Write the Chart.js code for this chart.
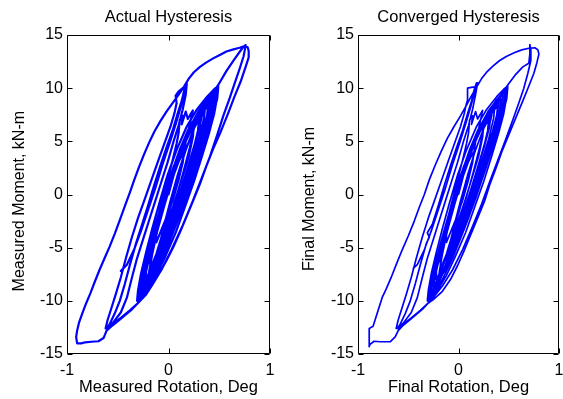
<!DOCTYPE html>
<html><head><meta charset="utf-8">
<script src="https://cdn.jsdelivr.net/npm/chart.js@4/dist/chart.umd.min.js"></script>
<style>
html,body{margin:0;padding:0;background:#fff;overflow:hidden;width:563px;height:399px;position:relative;}
#c1{position:absolute;left:0;top:0;width:290px;height:399px;}
#c2{position:absolute;left:290px;top:0;width:290px;height:399px;}
</style></head><body>
<canvas id="c1" width="290" height="399"></canvas>
<canvas id="c2" width="290" height="399"></canvas>
<script>
// Tick labels
const rotTicks = [-1, 0, 1];
const momTicks = [-15, -10, -5, 0, 5, 10, 15];
const titles = ["Actual Hysteresis", "Converged Hysteresis"];
const xTitles = ["Measured Rotation, Deg", "Final Rotation, Deg"];
const yTitles = ["Measured Moment, kN-m   ", "Final Moment, kN-m  "];

// [rotation (deg), moment (kN-m)], in path order
const bandCycles = [
[0,0],[0.05,1.8],[0.1,3.1],[0.15,4.0],
[0.14,3.0],[0.1,1.4],[0.04,-0.6],[-0.03,-2.4],[-0.09,-3.8],[-0.12,-4.5],
[-0.12,-3.6],[-0.1,-2.2],[-0.05,-0.2],[0.02,1.8],[0.1,3.8],[0.18,5.4],[0.25,6.5],
[0.24,5.4],[0.2,3.6],[0.13,1.4],[0.05,-1.0],[-0.03,-3.2],[-0.11,-5.4],[-0.18,-7.0],
[-0.18,-6.0],[-0.15,-4.4],[-0.1,-2.4],[-0.03,0],[0.05,2.2],[0.13,4.2],[0.22,6.0],[0.32,7.5],
[0.31,6.4],[0.26,4.6],[0.19,2.4],[0.1,-0.2],[0.01,-2.8],[-0.08,-5.0],[-0.16,-6.8],[-0.22,-8.0],
[-0.22,-7.0],[-0.19,-5.6],[-0.14,-3.6],[-0.07,-1.2],[0.01,1.2],[0.1,3.6],[0.2,5.8],[0.3,7.5],[0.4,8.8],
[0.39,7.8],[0.34,6.0],[0.27,3.8],[0.18,1.2],[0.08,-1.6],[-0.03,-4.4],[-0.13,-6.6],[-0.21,-8.2],[-0.27,-9.3],
[-0.27,-8.4],[-0.24,-7.0],[-0.19,-5.0],[-0.12,-2.6],[-0.04,0],[0.05,2.6],[0.15,5.0],[0.26,7.2],[0.37,8.8],[0.49,10.1],
[0.48,9.0],[0.43,7.2],[0.36,5.0],[0.27,2.4],[0.17,-0.4],[0.06,-3.2],[-0.05,-5.8],[-0.15,-7.8],[-0.23,-9.2],[-0.3,-10.2],
[-0.29,-9.2],[-0.26,-7.6],[-0.2,-5.4],[-0.13,-3.0],[-0.05,-0.4],[0.04,2.2],[0.14,4.8],[0.25,7.0],[0.35,8.4],[0.44,9.4],
[0.43,8.4],[0.38,6.6],[0.3,4.2],[0.21,1.6],[0.11,-1.2],[0.0,-4.0],[-0.1,-6.2],[-0.18,-7.8],[-0.25,-9.0],
[-0.24,-8.0],[-0.2,-6.2],[-0.14,-4.0],[-0.07,-1.6],[0.01,1.0],[0.1,3.6],[0.2,6.0],[0.28,7.4],[0.36,8.2],
[0.35,7.2],[0.3,5.2],[0.22,2.8],[0.12,0],[0.02,-2.8],[-0.08,-5.4],[-0.17,-7.6],[-0.24,-9.0],[-0.28,-9.8],
[-0.27,-8.8],[-0.23,-7.0],[-0.17,-4.8],[-0.1,-2.4],[-0.02,0.2],[0.07,2.8],[0.17,5.2],[0.28,7.4],[0.38,8.8],[0.47,9.8],
[0.46,8.8],[0.41,7.0],[0.33,4.6],[0.24,2.0],[0.14,-0.8],[0.04,-3.4],[-0.06,-5.6],[-0.14,-7.2],[-0.2,-8.2],
[-0.19,-7.2],[-0.16,-5.6],[-0.11,-3.4],[-0.04,-1.0],[0.04,1.6],[0.13,4.2],[0.22,6.2],[0.3,7.0],
[0.29,6.0],[0.24,4.0],[0.16,1.4],[0.07,-1.4],[-0.03,-4.2],[-0.13,-6.6],[-0.22,-8.6],[-0.29,-10.0],
[-0.27,-8.6],[-0.22,-6.6],[-0.16,-4.2],[-0.09,-1.6],[-0.02,1.0],[0.04,3.2],[0.08,4.8],[0.1,5.8],[0.11,7.0],[0.14,7.4],[0.13,6.6],[0.17,7.8],[0.19,7.1],[0.22,7.6],[0.24,7.9],[0.21,6.6],[0.17,5.0],
[0.14,3.0],[0.06,0.2],[-0.03,-2.8],[-0.12,-5.6],[-0.2,-7.8],[-0.26,-9.2],[-0.28,-9.8],
[-0.28,-9.0],[-0.24,-7.2],[-0.18,-5.0],[-0.11,-2.6],[-0.03,0],[0.06,2.6],[0.16,5.0],[0.27,7.2],[0.36,8.4],[0.42,9.0],
[0.41,8.0],[0.35,6.0],[0.27,3.6],[0.18,1.0],[0.08,-1.8],[-0.03,-4.6],[-0.13,-6.9],[-0.22,-8.8],[-0.29,-10.1]
];
const bandLate = [
[-0.28,-9.2],[-0.25,-7.8],[-0.21,-6.2],[-0.16,-4.4],[-0.1,-2.4],[-0.03,-0.2],[0.05,2.2],[0.13,4.4],[0.21,6.2],[0.29,7.6],[0.34,8.3],
[0.33,7.4],[0.29,5.8],[0.23,3.8],[0.16,1.6],[0.08,-0.8],[0.0,-3.2],[-0.08,-5.4],[-0.15,-7.2],[-0.21,-8.6],[-0.26,-9.6],
[-0.25,-8.7],[-0.22,-7.2],[-0.17,-5.2],[-0.11,-3.0],[-0.04,-0.6],[0.04,1.9],[0.12,4.2],[0.21,6.3],[0.3,7.9],[0.39,9.0],[0.46,9.7],
[0.45,8.6],[0.4,6.8],[0.34,4.8],[0.26,2.4],[0.18,0.0],[0.1,-2.2],[0.01,-4.4],[-0.07,-6.2],[-0.13,-7.4],
[-0.12,-6.4],[-0.09,-4.8],[-0.04,-2.8],[0.02,-0.6],[0.09,1.8],[0.17,4.2],[0.25,6.2],[0.33,7.6],[0.39,8.4],
[0.38,7.4],[0.33,5.6],[0.26,3.2],[0.17,0.6],[0.08,-2.2],[-0.02,-4.9],[-0.11,-7.0],[-0.19,-8.6],[-0.25,-9.6],[-0.3,-10.2],
[-0.29,-9.4],[-0.27,-8.0],[-0.23,-6.4],[-0.18,-4.6],[-0.12,-2.6],[-0.05,-0.4],[0.03,2.0],[0.11,4.2],[0.19,6.0],[0.26,7.2],
[0.25,6.2],[0.21,4.4],[0.15,2.2],[0.08,-0.2],[0.0,-2.6],[-0.08,-4.8],[-0.16,-6.8],[-0.23,-8.4],[-0.28,-9.4],[-0.31,-10.0],
[-0.3,-9.0],[-0.27,-7.4],[-0.22,-5.4],[-0.16,-3.2],[-0.09,-0.8],[-0.01,1.8],[0.08,4.2],[0.18,6.4],[0.28,8.0],[0.38,9.2],[0.45,9.9],[0.49,10.2],
[0.48,9.2],[0.45,7.6],[0.4,5.8],[0.33,3.6],[0.25,1.2],[0.16,-1.2],[0.07,-3.6],[-0.03,-5.8],[-0.12,-7.6],[-0.2,-8.9],[-0.26,-9.7],[-0.29,-10.1]
];

const actualRise = [[-0.27,-8.8],[-0.22,-6.8],[-0.15,-4.4],[-0.07,-1.8],[0.02,1.0],[0.12,3.8],[0.22,6.2],[0.32,8.0],[0.41,9.2],[0.49,10.3],[0.57,11.6],[0.64,12.6],[0.7,13.4],[0.74,13.9],[0.76,14.05]];
const actualDrop = [[0.76,14.0],[0.74,13.0],[0.7,11.8],[0.65,10.4],[0.6,9.0],[0.54,7.4],[0.48,5.6],[0.41,3.6],[0.33,1.6],[0.24,-0.6],[0.14,-2.9],[0.03,-5.2],[-0.07,-7.1],[-0.17,-8.6],[-0.26,-9.8],[-0.36,-10.8],[-0.46,-11.6],[-0.55,-12.3],[-0.61,-12.8],[-0.64,-13.5],[-0.69,-13.8],[-0.76,-13.85],[-0.82,-13.9],[-0.86,-14.0],[-0.9,-14.0]];
const actualEnvelope = [[-0.9,-14.0],[-0.91,-13.4],[-0.9,-12.8],[-0.88,-12.0],[-0.85,-11.2],[-0.81,-10.2],[-0.77,-9.3],[-0.73,-8.3],[-0.68,-7.1],[-0.63,-6.0],[-0.58,-4.9],[-0.53,-3.7],[-0.48,-2.4],[-0.43,-1.1],[-0.38,0.2],[-0.34,1.3],[-0.29,2.6],[-0.24,3.8],[-0.19,4.9],[-0.14,5.9],[-0.08,6.9],[-0.02,7.8],[0.04,8.6],[0.1,9.4],[0.15,10.1],[0.2,10.9],[0.25,11.5],[0.31,12.0],[0.37,12.4],[0.44,12.8],[0.51,13.15],[0.57,13.45],[0.64,13.65],[0.7,13.8],[0.75,13.95],[0.78,13.85],[0.79,13.5]];
const actualReturn = [[0.79,13.5],[0.79,12.9],[0.76,12.0],[0.71,10.6],[0.65,9.2],[0.59,7.7],[0.51,5.8],[0.44,4.3],[0.37,2.6],[0.31,1.0],[0.25,-0.4],[0.19,-1.8],[0.12,-3.4],[0.05,-4.9],[-0.02,-6.2],[-0.09,-7.4],[-0.16,-8.5],[-0.22,-9.4],[-0.3,-10.2],[-0.38,-10.9],[-0.47,-11.6],[-0.55,-12.2],[-0.6,-12.6]];
const actualInner = [[-0.62,-12.6],[-0.6,-11.8],[-0.56,-10.6],[-0.52,-9.4],[-0.47,-7.8],[-0.42,-6.0],[-0.36,-4.0],[-0.3,-2.2],[-0.24,-0.6],[-0.17,1.3],[-0.1,3.2],[-0.04,4.8],[0.02,6.4],[0.06,7.7],[0.08,8.6],[0.07,9.3],[0.1,9.7],[0.14,10.0],[0.18,10.4],
[0.17,9.4],[0.14,8.0],[0.1,6.5],[0.05,5.0],[-0.01,3.0],[-0.07,1.2],[-0.13,-0.6],[-0.19,-2.4],[-0.25,-4.2],[-0.31,-6.0],[-0.36,-7.8],[-0.41,-9.7],[-0.47,-11.1],[-0.55,-12.1],[-0.61,-12.6],
[-0.58,-12.2],[-0.53,-11.2],[-0.48,-10.0],[-0.43,-8.4],[-0.38,-6.6],[-0.32,-4.6],[-0.26,-2.8],[-0.2,-1.0],[-0.14,0.9],[-0.08,2.7],[-0.02,4.4],[0.04,6.0],[0.09,7.6],[0.13,8.8],[0.16,10.0],[0.18,10.5],
[0.16,9.6],[0.12,8.2],[0.07,6.6],[0.01,4.8],[-0.06,2.8],[-0.13,0.6],[-0.2,-1.4],[-0.27,-3.4],[-0.34,-5.2],[-0.41,-6.6],[-0.47,-7.2]];

const convergedRise = [[-0.27,-8.8],[-0.22,-6.8],[-0.15,-4.4],[-0.07,-1.8],[0.02,1.0],[0.12,3.8],[0.22,6.2],[0.32,8.0],[0.41,9.2],[0.49,10.3],[0.57,11.3],[0.64,12.0],[0.7,12.35],[0.71,13.2],[0.71,14.1]];
const convergedDrop = [[0.72,13.6],[0.72,12.6],[0.69,11.4],[0.65,10.0],[0.6,8.6],[0.54,7.0],[0.47,5.2],[0.39,3.2],[0.31,1.2],[0.23,-0.9],[0.14,-3.0],[0.04,-5.2],[-0.06,-7.1],[-0.16,-8.6],[-0.26,-9.8],[-0.36,-10.8],[-0.46,-11.6],[-0.55,-12.3],[-0.6,-12.8],[-0.63,-13.4],[-0.68,-13.85],[-0.78,-13.85],[-0.84,-13.8],[-0.88,-14.1],[-0.89,-14.3]];
const convergedEnvelope = [[-0.89,-14.3],[-0.89,-13.4],[-0.885,-12.6],[-0.85,-12.4],[-0.82,-11.5],[-0.79,-10.6],[-0.76,-9.7],[-0.72,-8.9],[-0.67,-7.8],[-0.62,-6.6],[-0.56,-5.2],[-0.5,-3.9],[-0.44,-2.5],[-0.39,-1.2],[-0.34,0.0],[-0.29,1.4],[-0.23,2.8],[-0.17,4.1],[-0.11,5.3],[-0.05,6.3],[0.02,7.4],[0.08,8.4],[0.13,9.3],[0.18,10.1],[0.23,10.9],[0.28,11.5],[0.345,12.1],[0.41,12.6],[0.48,13.0],[0.56,13.35],[0.63,13.6],[0.7,13.75],[0.76,13.8],[0.79,13.6],[0.8,13.2]];
const convergedReturn = [[0.8,13.2],[0.78,12.4],[0.75,11.4],[0.7,10.2],[0.64,8.8],[0.57,7.2],[0.5,5.6],[0.43,4.0],[0.37,2.4],[0.31,0.9],[0.26,-0.6],[0.2,-2.0],[0.13,-3.6],[0.06,-5.2],[-0.01,-6.7],[-0.08,-8.0],[-0.16,-9.1],[-0.24,-9.8],[-0.3,-10.2],[-0.38,-10.9],[-0.47,-11.6],[-0.55,-12.2],[-0.6,-12.6]];
const convergedInner = [[-0.62,-12.6],[-0.6,-11.8],[-0.56,-10.6],[-0.52,-9.4],[-0.47,-7.8],[-0.42,-6.0],[-0.36,-4.0],[-0.3,-2.2],[-0.24,-0.6],[-0.17,1.3],[-0.1,3.2],[-0.04,4.8],[0.02,6.4],[0.06,7.7],[0.07,8.2],[0.09,8.9],[0.09,10.0],[0.14,10.1],[0.18,10.1],[0.19,10.5],
[0.17,9.4],[0.14,8.0],[0.1,6.5],[0.05,5.0],[-0.01,3.0],[-0.07,1.2],[-0.13,-0.6],[-0.19,-2.4],[-0.25,-4.2],[-0.31,-6.0],[-0.36,-7.8],[-0.41,-9.7],[-0.47,-11.1],[-0.55,-12.1],[-0.61,-12.6],
[-0.58,-12.2],[-0.53,-11.2],[-0.48,-10.0],[-0.43,-8.4],[-0.38,-6.6],[-0.32,-4.6],[-0.29,-4.0],[-0.31,-3.6],[-0.26,-2.8],[-0.2,-1.0],[-0.14,0.9],[-0.08,2.7],[-0.02,4.4],[0.04,6.0],[0.09,7.6],[0.13,8.8],[0.16,10.0],[0.18,10.5],
[0.16,9.6],[0.12,8.2],[0.07,6.6],[0.01,4.8],[-0.06,2.8],[-0.13,0.6],[-0.2,-1.4],[-0.27,-3.4],[-0.34,-5.2],[-0.41,-6.6],[-0.45,-6.95]];

const actualPath = [bandCycles, bandLate, actualRise, actualDrop, actualEnvelope, actualReturn, actualInner];
const convergedPath = [bandCycles, bandLate, convergedRise, convergedDrop, convergedEnvelope, convergedReturn, convergedInner];

const FONT = "'Liberation Sans', Arial, Helvetica, sans-serif";
Chart.defaults.font.family = FONT;
Chart.defaults.color = '#000';

const boxTicks = {
  id: 'boxTicks',
  afterDraw(chart) {
    const {ctx, chartArea: a, scales: {x, y}} = chart;
    const L = Math.round(a.left) + 0.5, R = Math.round(a.right) - 0.5;
    const T = Math.round(a.top) + 0.5, B = Math.round(a.bottom) - 0.5;
    ctx.save();
    ctx.strokeStyle = '#000';
    ctx.lineWidth = 1;
    ctx.beginPath();
    ctx.rect(L, T, R - L, B - T);
    const len = 5;
    rotTicks.forEach(v => {
      const px = Math.round(x.getPixelForValue(v)) + 0.5;
      ctx.moveTo(px, B); ctx.lineTo(px, B - len);
      ctx.moveTo(px, T); ctx.lineTo(px, T + len);
    });
    momTicks.forEach(v => {
      const py = Math.round(y.getPixelForValue(v)) + 0.5;
      ctx.moveTo(L, py); ctx.lineTo(L + len, py);
      ctx.moveTo(R, py); ctx.lineTo(R - len, py);
    });
    ctx.stroke();
    ctx.restore();
  }
};

function makeChart(id, idx, path, lw, yWidth, padRight) {
  const pts = path.flat().map(([x, y]) => ({x, y}));
  return new Chart(document.getElementById(id), {
    type: 'scatter',
    data: {datasets: [{data: pts, showLine: true, borderColor: '#0000ff', backgroundColor: '#0000ff',
      borderWidth: lw, pointRadius: 0, tension: 0, borderJoinStyle: 'round', borderCapStyle: 'round'}]},
    options: {
      responsive: false, animation: false, devicePixelRatio: 1,
      layout: {padding: {left: 0, right: padRight, top: 0, bottom: 0}},
      plugins: {
        legend: {display: false}, tooltip: {enabled: false},
        title: {display: true, text: titles[idx], fullSize: false, color: '#000',
          font: {size: 16.5, weight: 'normal', family: FONT, lineHeight: 1.2},
          padding: {top: 8, bottom: 7.2}}
      },
      scales: {
        x: {type: 'linear', min: -1, max: 1,
          afterBuildTicks: s => { s.ticks = rotTicks.map(v => ({value: v})); },
          afterFit: s => { s.height = 45; },
          grid: {display: false, drawTicks: false}, border: {display: false},
          ticks: {font: {size: 16, family: FONT}, color: '#000', padding: 7, maxRotation: 0, autoSkip: false},
          title: {display: true, text: xTitles[idx], color: '#000', font: {size: 16.5, family: FONT, lineHeight: 1.2}, padding: {top: 0, bottom: 2}}
        },
        y: {type: 'linear', min: -15, max: 15,
          afterBuildTicks: s => { s.ticks = momTicks.map(v => ({value: v})); },
          afterFit: s => { s.width = yWidth; },
          grid: {display: false, drawTicks: false}, border: {display: false},
          ticks: {font: {size: 16, family: FONT}, color: '#000', padding: 4, autoSkip: false},
          title: {display: true, text: yTitles[idx], color: '#000', font: {size: 16, family: FONT, lineHeight: 1.2}, padding: {top: 10, bottom: 0}}
        }
      }
    },
    plugins: [boxTicks]
  });
}

makeChart('c1', 0, actualPath, 2.2, 67, 20);
makeChart('c2', 1, convergedPath, 1.7, 68, 21);
</script>
</body></html>
